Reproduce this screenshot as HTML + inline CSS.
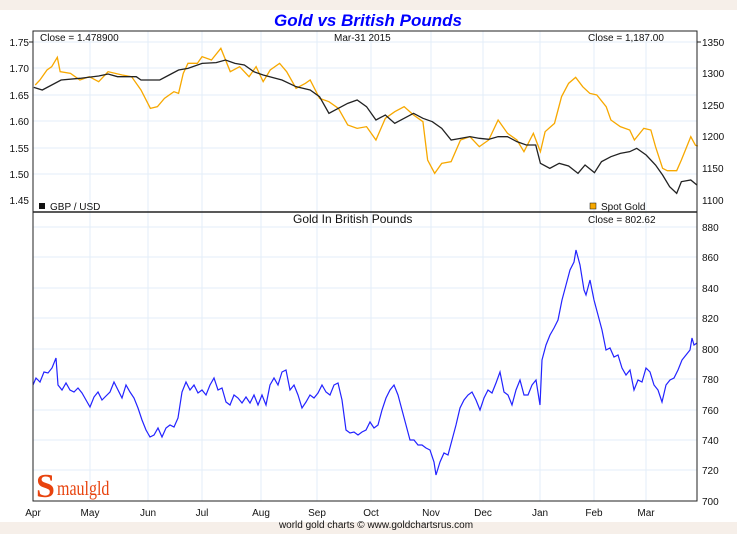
<!DOCTYPE html>
<html><head><meta charset="utf-8"><style>
body{margin:0;background:#fff;}
svg{display:block;font-family:"Liberation Sans",sans-serif;}
</style></head><body>
<svg width="737" height="534" viewBox="0 0 737 534">
<rect x="0" y="0" width="737" height="534" fill="#fff"/>
<rect x="0" y="0" width="737" height="10" fill="#f6efe9"/>
<rect x="0" y="522" width="737" height="12" fill="#f6efe9"/>
<text x="368" y="26" text-anchor="middle" font-size="17" font-weight="bold" font-style="italic" fill="#0000ff">Gold vs British Pounds</text>
<g stroke="#e3eef8" stroke-width="1">
<line x1="90" y1="31" x2="90" y2="501"/><line x1="148" y1="31" x2="148" y2="501"/><line x1="202" y1="31" x2="202" y2="501"/><line x1="261" y1="31" x2="261" y2="501"/><line x1="317" y1="31" x2="317" y2="501"/><line x1="371" y1="31" x2="371" y2="501"/><line x1="431" y1="31" x2="431" y2="501"/><line x1="483" y1="31" x2="483" y2="501"/><line x1="540" y1="31" x2="540" y2="501"/><line x1="594" y1="31" x2="594" y2="501"/><line x1="646" y1="31" x2="646" y2="501"/>
<line x1="33" y1="42" x2="697" y2="42"/><line x1="33" y1="68" x2="697" y2="68"/><line x1="33" y1="95" x2="697" y2="95"/><line x1="33" y1="121" x2="697" y2="121"/><line x1="33" y1="148" x2="697" y2="148"/><line x1="33" y1="174" x2="697" y2="174"/>
<line x1="33" y1="227" x2="697" y2="227"/><line x1="33" y1="257" x2="697" y2="257"/><line x1="33" y1="288" x2="697" y2="288"/><line x1="33" y1="318" x2="697" y2="318"/><line x1="33" y1="349" x2="697" y2="349"/><line x1="33" y1="379" x2="697" y2="379"/><line x1="33" y1="410" x2="697" y2="410"/><line x1="33" y1="440" x2="697" y2="440"/><line x1="33" y1="470" x2="697" y2="470"/>
</g>
<g transform="scale(0.46992,0.33333)" fill="none" stroke-width="1.3">
<polyline vector-effect="non-scaling-stroke" stroke="#f7a800" points="75,255 85,240 100,210 110,200 122,172 128,215 150,220 170,240 190,230 210,245 230,215 260,225 280,230 300,270 320,325 335,320 350,295 370,275 380,280 390,220 400,190 420,190 430,170 450,180 470,145 490,215 510,200 530,230 545,200 560,245 575,210 595,190 610,215 630,265 650,250 660,240 680,295 700,305 720,325 740,375 760,385 780,380 800,420 820,355 840,335 860,320 880,345 900,365 910,480 925,520 940,490 960,485 980,420 1000,410 1020,440 1040,420 1060,360 1080,400 1100,420 1115,455 1135,400 1150,455 1160,395 1180,370 1195,290 1210,250 1225,232 1240,260 1255,280 1270,285 1290,320 1300,360 1320,380 1340,390 1350,420 1370,385 1385,390 1395,440 1410,505 1420,512 1440,512 1450,480 1460,445 1470,410 1480,436 1485,438"/>
<polyline vector-effect="non-scaling-stroke" stroke="#222" points="72,262 90,270 130,240 170,235 210,228 230,222 250,230 290,230 300,240 340,240 360,225 380,210 400,205 430,190 460,188 480,180 500,190 520,195 540,215 560,225 600,240 630,260 660,270 680,290 700,340 720,325 740,310 760,300 780,320 800,360 820,345 840,370 860,355 880,340 900,355 920,365 940,385 960,420 980,415 1000,410 1020,415 1040,418 1060,410 1080,410 1100,425 1120,435 1140,435 1150,490 1170,505 1190,490 1210,498 1230,520 1245,495 1265,518 1280,485 1300,470 1320,460 1340,455 1355,445 1375,465 1395,495 1410,525 1425,560 1440,580 1450,545 1470,540 1483,555"/>
</g>
<polyline fill="none" stroke="#2323ff" stroke-width="1.2" points="33,385 36,378 40,382 44,372 48,373 52,368 56,358 58,385 62,390 66,383 70,390 74,392 78,388 82,393 86,400 90,407 94,397 98,392 102,400 106,396 110,392 114,382 118,390 122,398 126,385 130,392 134,398 138,408 142,420 146,430 150,437 154,435 158,428 162,437 166,428 170,425 174,427 178,418 182,392 186,382 190,390 194,385 198,393 202,390 206,395 210,385 214,378 218,390 222,388 226,402 230,405 234,395 238,398 242,403 246,397 250,403 254,395 258,405 262,395 266,405 270,385 274,378 278,385 282,372 286,370 290,390 294,385 298,395 302,408 306,402 310,395 314,398 318,393 322,385 326,392 330,395 334,385 338,383 342,400 346,430 350,433 354,432 358,435 362,432 366,430 370,422 374,428 378,425 382,410 386,398 390,390 394,385 398,395 402,410 406,425 410,440 414,440 418,445 422,445 426,448 430,450 434,462 436,475 440,462 444,453 448,455 452,440 456,425 460,408 464,400 468,395 472,392 476,400 480,410 484,398 488,390 492,393 496,383 500,372 504,392 508,395 512,405 516,390 520,380 524,395 528,395 532,385 536,380 540,405 542,360 546,345 550,335 554,328 558,320 562,300 566,285 570,270 574,262 576,250 580,265 584,290 586,295 590,280 594,300 598,315 602,330 606,350 610,348 614,357 618,355 622,368 626,375 630,370 634,390 638,380 642,382 646,368 650,372 654,385 658,390 662,402 666,385 670,380 674,378 678,370 682,360 686,355 690,350 692,338 694,345 697,343"/>
<rect x="33" y="31" width="664" height="470" fill="none" stroke="#222" stroke-width="1"/>
<line x1="33" y1="212" x2="697" y2="212" stroke="#222" stroke-width="1.5"/>
<g font-size="10" fill="#111">
<text x="40" y="41">Close = 1.478900</text>
<text x="334" y="41">Mar-31  2015</text>
<text x="588" y="41">Close = 1,187.00</text>
<rect x="39" y="203" width="6" height="6" fill="#111"/><text x="50" y="210">GBP / USD</text>
<rect x="590" y="203" width="6" height="6" fill="#f7a800" stroke="#111" stroke-width="0.5"/><text x="601" y="210">Spot Gold</text>
<text x="293" y="223" font-size="12">Gold In British Pounds</text>
<text x="588" y="223">Close = 802.62</text>
<g text-anchor="end">
<text x="29" y="46">1.75</text><text x="29" y="72">1.70</text><text x="29" y="99">1.65</text><text x="29" y="125">1.60</text><text x="29" y="152">1.55</text><text x="29" y="178">1.50</text><text x="29" y="204">1.45</text>
</g>
<text x="702" y="46">1350</text><text x="702" y="77">1300</text><text x="702" y="109">1250</text><text x="702" y="140">1200</text><text x="702" y="172">1150</text><text x="702" y="204">1100</text>
<text x="702" y="231">880</text><text x="702" y="261">860</text><text x="702" y="292">840</text><text x="702" y="322">820</text><text x="702" y="353">800</text><text x="702" y="383">780</text><text x="702" y="414">760</text><text x="702" y="444">740</text><text x="702" y="474">720</text><text x="702" y="505">700</text>
<g text-anchor="middle">
<text x="33" y="516">Apr</text><text x="90" y="516">May</text><text x="148" y="516">Jun</text><text x="202" y="516">Jul</text><text x="261" y="516">Aug</text><text x="317" y="516">Sep</text><text x="371" y="516">Oct</text><text x="431" y="516">Nov</text><text x="483" y="516">Dec</text><text x="540" y="516">Jan</text><text x="594" y="516">Feb</text><text x="646" y="516">Mar</text>
<text x="376" y="528">world gold charts © www.goldchartsrus.com</text>
</g>
</g>
<g stroke="#222"><line x1="697" y1="42" x2="701" y2="42"/><line x1="29" y1="42" x2="33" y2="42"/></g>
<text x="36" y="497" font-family="Liberation Serif,serif" font-size="34" font-weight="bold" fill="#e8430e">S</text>
<text x="57" y="495" font-family="Liberation Serif,serif" font-size="20" fill="#e8430e" transform="scale(0.8,1)" style="transform-origin:57px 495px">maulgld</text>
</svg>
</body></html>
